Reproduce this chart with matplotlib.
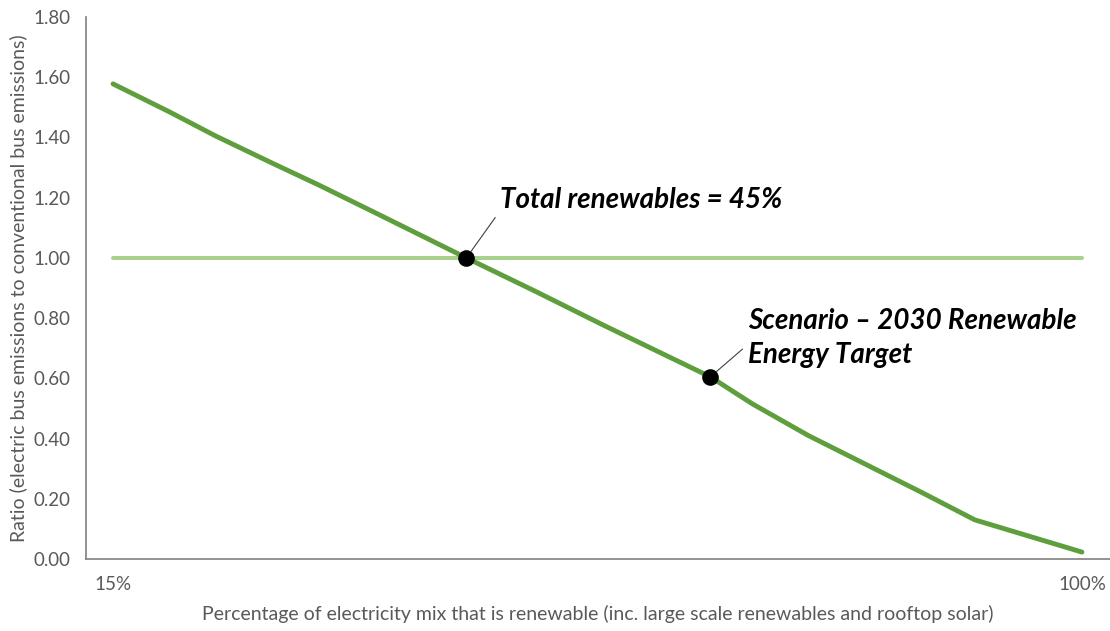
import numpy as np
import matplotlib.pyplot as plt

# Share of renewables in the electricity mix (%)
renewable_pct = [15, 20, 24, 28.9, 33, 38, 46, 52, 58, 67.4, 71.1, 76, 81, 86, 90.6, 100]
# Electric bus emissions / conventional bus emissions
ratio = [1.578, 1.484, 1.405, 1.316, 1.243, 1.15, 1.0, 0.89, 0.777, 0.605, 0.515,
         0.41, 0.315, 0.22, 0.13, 0.023]
parity = [1.0] * len(renewable_pct)

# Highlighted points
point_x = [46, 67.4]
point_y = [1.0, 0.605]
point_labels = ["Total renewables = 45%", "Scenario \u2013 2030 Renewable\nEnergy Target"]

plt.rcParams['font.family'] = ['Lato', 'DejaVu Sans']
grey = '#595959'

fig = plt.figure(figsize=(11.1, 6.31), dpi=100)
ax = fig.add_axes([0.0775, 0.1141, 0.9225, 0.8589])

ax.plot(renewable_pct, parity, color='#a9d18e', lw=2.9, solid_capstyle='round', zorder=2)
ax.plot(renewable_pct, ratio, color='#5f9e3c', lw=3.5, solid_capstyle='round',
        solid_joinstyle='round', zorder=3)
ax.scatter(point_x, point_y, s=120, color='black', zorder=4)

offsets = [(24.5, 41.8), (27.4, 28.0)]
relpos = [(0, 0.1), (0, 0.4)]
for x, y, lab, off, rp in zip(point_x, point_y, point_labels, offsets, relpos):
    ax.annotate(lab, xy=(x, y), xytext=off, textcoords='offset points',
                ha='left', va='center', fontsize=20, fontweight='bold', fontstyle='italic',
                color='black', linespacing=1.4,
                arrowprops=dict(arrowstyle='-', color='#404040', lw=0.8,
                                shrinkA=3, shrinkB=6, relpos=rp))

ax.set_xlim(12.63, 102.46)
ax.set_ylim(0, 1.8)
ax.set_yticks(np.arange(0, 1.81, 0.2))
ax.set_yticklabels([f"{v:.2f}" for v in np.arange(0, 1.81, 0.2)])
ax.set_xticks([15, 100])
ax.set_xticklabels(["15%", "100%"])
ax.tick_params(length=0, labelsize=13.5, labelcolor=grey)
ax.tick_params(axis='x', pad=12)
ax.tick_params(axis='y', pad=11)

for s in ['top', 'right']:
    ax.spines[s].set_visible(False)
for s in ['left', 'bottom']:
    ax.spines[s].set_color('#808080')
    ax.spines[s].set_linewidth(1.2)

ax.set_xlabel("Percentage of electricity mix that is renewable (inc. large scale renewables and rooftop solar)",
              fontsize=14, color=grey, labelpad=9)
ax.set_ylabel("Ratio (electric bus emissions to conventional bus emissions)",
              fontsize=14, color=grey, labelpad=5)

fig.savefig('out.png', dpi=100)
